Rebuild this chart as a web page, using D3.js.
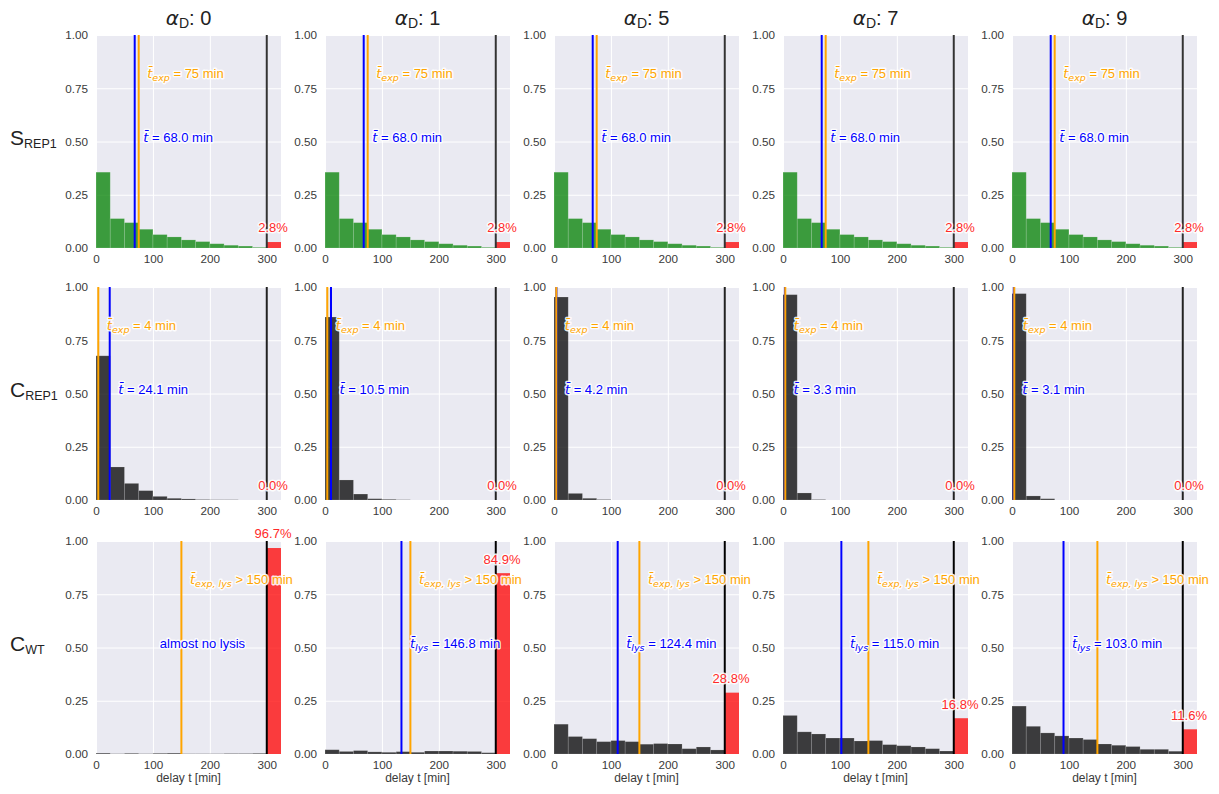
<!DOCTYPE html>
<html>
<head>
<meta charset="utf-8">
<script src="https://cdn.jsdelivr.net/npm/d3@7/dist/d3.min.js"></script>
<style>
  body { margin: 0; background: #fff; }
  svg { display: block; font-family: "Liberation Sans", Arial, sans-serif; }
  .halo { paint-order: stroke; stroke: #fff; stroke-width: 2.8px; stroke-linejoin: round; stroke-opacity: 0.9; }
</style>
</head>
<body>
<svg id="chart" width="1219" height="794"></svg>
<script>
// ---- data -------------------------------------------------------------
const alphaD = [0, 1, 5, 7, 9];
const rowNames = [
  { main: "S", sub: "REP1" },
  { main: "C", sub: "REP1" },
  { main: "C", sub: "WT" }
];
const binEdges = [0, 25, 50, 75, 100, 125, 150, 175, 200, 225, 250, 275, 300];
const overflowEdges = [300, 325];
const xTicks = [0, 100, 200, 300];
const yTicks = [0, 0.25, 0.5, 0.75, 1.0];

// S_REP1: same distribution for every alpha_D
const sRep1Fractions = [0.356, 0.138, 0.119, 0.088, 0.063, 0.052, 0.038, 0.030, 0.020, 0.013, 0.009, 0.003];
const sRep1Overflow = [2.8, 2.8, 2.8, 2.8, 2.8];
const sRep1Mean = [68.0, 68.0, 68.0, 68.0, 68.0];
const sRep1Expected = 75;

// C_REP1
const cRep1Fractions = [
  [0.677, 0.155, 0.078, 0.044, 0.017, 0.008, 0.005, 0.002, 0.001, 0.001, 0, 0],
  [0.859, 0.094, 0.028, 0.006, 0.003, 0.001, 0, 0, 0, 0, 0, 0],
  [0.953, 0.031, 0.008, 0.002, 0, 0, 0, 0, 0, 0, 0, 0],
  [0.964, 0.033, 0.002, 0, 0, 0, 0, 0, 0, 0, 0, 0],
  [0.969, 0.019, 0.006, 0, 0, 0, 0, 0, 0, 0, 0, 0]
];
const cRep1Overflow = [0.0, 0.0, 0.0, 0.0, 0.0];
const cRep1Mean = [24.1, 10.5, 4.2, 3.3, 3.1];
const cRep1Expected = 4;

// C_WT
const cWtFractions = [
  [0.004, 0.001, 0.003, 0.001, 0.003, 0.004, 0.001, 0.001, 0.001, 0.002, 0.002, 0.003],
  [0.020, 0.012, 0.016, 0.010, 0.008, 0.011, 0.008, 0.014, 0.014, 0.013, 0.012, 0.006],
  [0.140, 0.082, 0.072, 0.058, 0.063, 0.058, 0.046, 0.049, 0.047, 0.025, 0.033, 0.019],
  [0.181, 0.104, 0.094, 0.075, 0.075, 0.061, 0.063, 0.044, 0.039, 0.033, 0.025, 0.014],
  [0.225, 0.130, 0.099, 0.085, 0.075, 0.068, 0.047, 0.041, 0.035, 0.022, 0.022, 0.013]
];
const cWtOverflow = [96.7, 84.9, 28.8, 16.8, 11.6];
const cWtLysisMean = [null, 146.8, 124.4, 115.0, 103.0];
const cWtExpectedLysis = 150;

// ---- layout -----------------------------------------------------------
const panelLeft = [96, 325, 554, 783, 1012];
const panelTop = [35, 287, 541];
const panelW = 185, panelH = 213;
const cutoff = 300;          // simulation end: everything later lands in the overflow bin
const labelShift = 15;       // annotations start a little to the right of their line
const halfBin = 12.5;        // lysis mean marker sits half a bin to the left

const x = d3.scaleLinear().domain([0, 325]).range([0, panelW]);
const y = d3.scaleLinear().domain([0, 1]).range([panelH, 0]);

const svg = d3.select("#chart");

const rows = [
  {
    fractions: alphaD.map(() => sRep1Fractions),
    overflow: sRep1Overflow,
    color: "#008000",
    cutColor: "#333",
    lines: alphaD.map((_, i) => ({ mean: sRep1Mean[i], meanPos: sRep1Mean[i], expected: sRep1Expected }))
  },
  {
    fractions: cRep1Fractions,
    overflow: cRep1Overflow,
    color: "#000",
    cutColor: "#222",
    lines: alphaD.map((_, i) => ({ mean: cRep1Mean[i], meanPos: cRep1Mean[i], expected: cRep1Expected }))
  },
  {
    fractions: cWtFractions,
    overflow: cWtOverflow,
    color: "#000",
    cutColor: "#000",
    lysis: true,
    lines: alphaD.map((_, i) => ({
      mean: cWtLysisMean[i],
      meanPos: cWtLysisMean[i] == null ? null : cWtLysisMean[i] - halfBin,
      expected: cWtExpectedLysis
    }))
  }
];

// t-bar label with optional subscript, followed by plain text
function tBarLabel(g, px, py, color, sub, rest, anchor) {
  const t = g.append("text")
    .attr("class", "halo")
    .attr("x", px).attr("y", py)
    .attr("fill", color)
    .attr("font-size", 13)
    .attr("text-anchor", anchor || "start");
  t.append("tspan")
    .attr("font-family", "'DejaVu Sans', sans-serif")
    .attr("font-style", "italic")
    .attr("font-size", 13)
    .text("t\u0304");
  if (sub) {
    t.append("tspan")
      .attr("font-family", "'DejaVu Sans', sans-serif")
      .attr("font-style", "italic")
      .attr("font-size", 9.5)
      .attr("dy", 3)
      .text(sub);
    t.append("tspan").attr("dy", -3).text(rest);
  } else {
    t.append("tspan").text(rest);
  }
  return t;
}

rows.forEach((row, r) => {
  alphaD.forEach((a, c) => {
    const g = svg.append("g").attr("transform", `translate(${panelLeft[c]},${panelTop[r]})`);

    // background and grid
    g.append("rect").attr("width", panelW).attr("height", panelH).attr("fill", "#EAEAF2");
    g.append("g")
      .call(d3.axisLeft(y).tickValues(yTicks).tickSize(-panelW).tickFormat(""))
      .call(s => s.select(".domain").remove())
      .call(s => s.selectAll("line").attr("stroke", "#fff").attr("stroke-width", 1));
    g.append("g").attr("transform", `translate(0,${panelH})`)
      .call(d3.axisBottom(x).tickValues(xTicks).tickSize(-panelH).tickFormat(""))
      .call(s => s.select(".domain").remove())
      .call(s => s.selectAll("line").attr("stroke", "#fff").attr("stroke-width", 1));

    // tick labels
    g.append("g")
      .call(d3.axisLeft(y).tickValues(yTicks).tickSize(0).tickPadding(8).tickFormat(d3.format(".2f")))
      .call(s => s.select(".domain").remove())
      .call(s => s.selectAll("text").attr("font-size", 11.7).attr("fill", "#3a3a3a")
        .attr("font-family", "'Liberation Sans', Arial, sans-serif"));
    g.append("g").attr("transform", `translate(0,${panelH})`)
      .call(d3.axisBottom(x).tickValues(xTicks).tickSize(0).tickPadding(7).tickFormat(d3.format("d")))
      .call(s => s.select(".domain").remove())
      .call(s => s.selectAll("text").attr("font-size", 11.7).attr("fill", "#3a3a3a")
        .attr("font-family", "'Liberation Sans', Arial, sans-serif"));

    // histogram bars
    const fr = row.fractions[c];
    const bins = fr.map((v, i) => ({ x0: binEdges[i], x1: binEdges[i + 1], v }));
    g.append("g").selectAll("rect").data(bins.filter(b => b.v > 0)).join("rect")
      .attr("x", b => x(b.x0))
      .attr("width", b => x(b.x1) - x(b.x0))
      .attr("y", b => y(b.v))
      .attr("height", b => y(0) - y(b.v))
      .attr("fill", row.color)
      .attr("fill-opacity", 0.75)
      .attr("stroke", "#fff")
      .attr("stroke-opacity", 0.18)
      .attr("stroke-width", 0.8);

    // overflow bin (t > cutoff)
    const ov = row.overflow[c] / 100;
    if (ov > 0) {
      g.append("rect")
        .attr("x", x(overflowEdges[0]))
        .attr("width", x(overflowEdges[1]) - x(overflowEdges[0]))
        .attr("y", y(ov))
        .attr("height", y(0) - y(ov))
        .attr("fill", "#ff0000")
        .attr("fill-opacity", 0.75);
    }

    // reference lines
    const ln = row.lines[c];
    g.append("line")
      .attr("x1", x(cutoff)).attr("x2", x(cutoff))
      .attr("y1", y(0)).attr("y2", y(1))
      .attr("stroke", row.cutColor).attr("stroke-width", 2);
    if (ln.meanPos != null) {
      g.append("line")
        .attr("x1", x(ln.meanPos)).attr("x2", x(ln.meanPos))
        .attr("y1", y(0)).attr("y2", y(1))
        .attr("stroke", "blue").attr("stroke-width", 2);
    }
    g.append("line")
      .attr("x1", x(ln.expected)).attr("x2", x(ln.expected))
      .attr("y1", y(0)).attr("y2", y(1))
      .attr("stroke", "orange").attr("stroke-width", 2);

    // annotations
    if (row.lysis) {
      tBarLabel(g, x(ln.expected + labelShift), y(0.8), "orange", "exp, lys", ` > ${ln.expected} min`);
      if (ln.mean != null) {
        tBarLabel(g, x(ln.meanPos + labelShift), y(0.5), "blue", "lys", ` = ${ln.mean.toFixed(1)} min`);
      } else {
        g.append("text").attr("class", "halo")
          .attr("x", x(187)).attr("y", y(0.5))
          .attr("text-anchor", "middle")
          .attr("fill", "blue").attr("font-size", 13)
          .text("almost no lysis");
      }
    } else {
      tBarLabel(g, x(ln.expected + labelShift), y(0.8), "orange", "exp", ` = ${ln.expected} min`);
      tBarLabel(g, x(ln.meanPos + labelShift), y(0.5), "blue", null, ` = ${ln.mean.toFixed(1)} min`);
    }

    // overflow percentage
    g.append("text").attr("class", "halo")
      .attr("x", x(311)).attr("y", y(ov + 0.045))
      .attr("text-anchor", "middle")
      .attr("fill", "#ff2a2a").attr("font-size", 13)
      .text(`${row.overflow[c].toFixed(1)}%`);

    // x-axis title on the bottom row
    if (r === rows.length - 1) {
      g.append("text")
        .attr("x", panelW / 2).attr("y", panelH + 28)
        .attr("text-anchor", "middle")
        .attr("font-size", 12).attr("fill", "#3a3a3a")
        .text("delay t [min]");
    }

    // column titles
    if (r === 0) {
      const t = g.append("text")
        .attr("x", panelW / 2).attr("y", -10)
        .attr("text-anchor", "middle")
        .attr("font-size", 20).attr("fill", "#222");
      t.append("tspan").attr("font-family", "'DejaVu Sans', sans-serif").attr("font-style", "italic").text("\u03b1");
      t.append("tspan").attr("font-size", 14).attr("dy", 3).text("D");
      t.append("tspan").attr("dy", -3).text(`: ${a}`);
    }
  });

  // row titles
  const rt = svg.append("text")
    .attr("x", 10).attr("y", panelTop[r] + panelH / 2 + 3)
    .attr("font-size", 21).attr("fill", "#222");
  rt.append("tspan").text(rowNames[r].main);
  rt.append("tspan").attr("font-size", 12.5).attr("dy", 3).text(rowNames[r].sub);
});
</script>
</body>
</html>
